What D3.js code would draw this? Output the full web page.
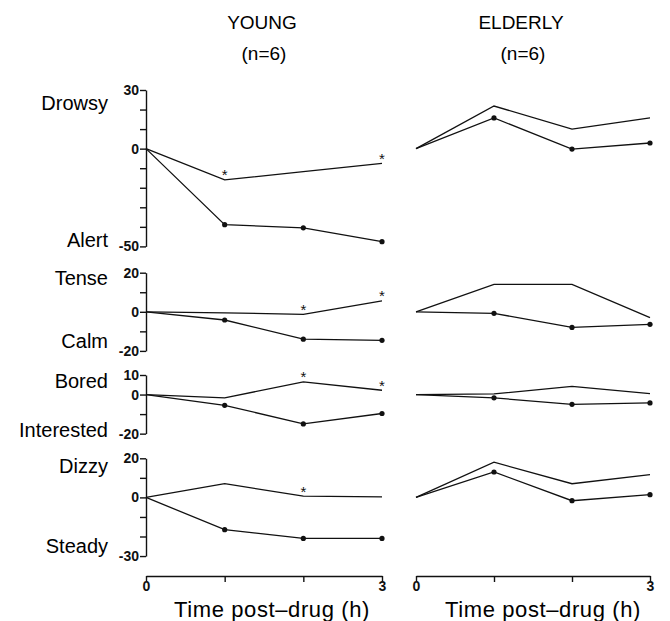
<!DOCTYPE html>
<html>
<head>
<meta charset="utf-8">
<script src="https://cdn.jsdelivr.net/npm/d3@7"></script>
<style>
  html, body { margin: 0; padding: 0; background: #fff; }
  svg { display: block; font-family: "Liberation Sans", Arial, Helvetica, sans-serif; }
  .line { fill: none; stroke: #111; stroke-width: 1.3; }
  .axis path, .axis line { stroke: #111; stroke-width: 1.4; }
</style>
</head>
<body>
<div id="chart"></div>
<script>
// time points (h)
const times = [0, 1, 2, 3];

// rating scales, one row per panel
const upperLabels = ['Drowsy', 'Tense', 'Bored', 'Dizzy'];
const lowerLabels = ['Alert', 'Calm', 'Interested', 'Steady'];
const yMax = [30, 20, 10, 20];
const yMin = [-50, -20, -20, -30];

// change from baseline, plain line (asterisked) and line with dots
const youngPlain = [
  [0, -16, -11.8, -7.5],
  [0, -0.5, -1.3, 5.6],
  [0, -1.7, 6.5, 2.2],
  [0, 7, 0.7, 0.3]
];
const youngDots = [
  [0, -38.9, -40.5, -47.6],
  [0, -4.2, -14, -14.6],
  [0, -5.5, -15, -9.7],
  [0, -16.5, -21, -21]
];
const elderlyPlain = [
  [0, 21.8, 10, 15.7],
  [0, 14, 14, -3],
  [0, 0.3, 4.2, 0.5],
  [0, 18, 7, 11.7]
];
const elderlyDots = [
  [0, 15.7, -0.2, 2.9],
  [0, -0.8, -8, -6.4],
  [0, -1.7, -5, -4.3],
  [0, 13, -1.7, 1.4]
];
// time points marked with * on the young plain line
const youngStars = [[1, 3], [2, 3], [2, 3], [2]];

const groups = ['YOUNG', 'ELDERLY'];
const groupN = ['(n=6)', '(n=6)'];

const width = 670, height = 621;
const pxPerUnit = 1.955;
const panelTop = [90, 272.7, 375, 458.3];
const upperY = [110, 285, 388, 473];
const lowerY = [247, 348, 437, 553];
const axisY = 576;

const svg = d3.select('#chart').append('svg')
  .attr('width', width).attr('height', height)
  .attr('viewBox', `0 0 ${width} ${height}`);

const xLeft = d3.scaleLinear().domain([0, 3]).range([146, 382]);
const xRight = d3.scaleLinear().domain([0, 3]).range([416, 650]);
const xScales = [xLeft, xRight];

const yScales = panelTop.map((top, i) => d3.scaleLinear()
  .domain([yMin[i], yMax[i]])
  .range([top + (yMax[i] - yMin[i]) * pxPerUnit, top]));

// group titles
groups.forEach((g, k) => {
  const cx = k === 0 ? 262 : 521;
  svg.append('text').attr('x', cx).attr('y', 29).attr('text-anchor', 'middle')
    .attr('font-size', 19).text(g);
  svg.append('text').attr('x', cx + 2).attr('y', 60).attr('text-anchor', 'middle')
    .attr('font-size', 19).text(groupN[k]);
});

// y axes (young side only) and scale labels
yScales.forEach((y, i) => {
  const ticks = d3.range(yMin[i], yMax[i] + 1, 10);
  const labelled = [yMin[i], 0, yMax[i]];
  const ax = svg.append('g').attr('class', 'axis')
    .attr('transform', `translate(${xLeft(0)},0)`)
    .call(d3.axisLeft(y).tickValues(ticks).tickSize(6).tickSizeOuter(0)
      .tickFormat((d) => (labelled.includes(d) ? d : '')));
  ax.selectAll('text').attr('font-family', 'inherit').attr('font-size', 14)
    .attr('font-weight', 'bold').attr('fill', '#111').attr('x', -7);

  svg.append('text').attr('x', 108).attr('y', upperY[i]).attr('text-anchor', 'end')
    .attr('font-size', 20).text(upperLabels[i]);
  svg.append('text').attr('x', 108).attr('y', lowerY[i]).attr('text-anchor', 'end')
    .attr('font-size', 20).text(lowerLabels[i]);
});

// lines
const plainSets = [youngPlain, elderlyPlain];
const dotSets = [youngDots, elderlyDots];

xScales.forEach((x, k) => {
  yScales.forEach((y, i) => {
    const line = d3.line().x((d, j) => x(times[j])).y((d) => y(d));
    svg.append('path').attr('class', 'line').attr('d', line(plainSets[k][i]));
    svg.append('path').attr('class', 'line').attr('d', line(dotSets[k][i]));
    svg.append('g').selectAll('circle')
      .data(dotSets[k][i].slice(1))
      .join('circle')
      .attr('cx', (d, j) => x(times[j + 1]))
      .attr('cy', (d) => y(d))
      .attr('r', 2.6)
      .attr('fill', '#111');
    if (k === 0) {
      svg.append('g').selectAll('text')
        .data(youngStars[i])
        .join('text')
        .attr('x', (t) => x(t))
        .attr('y', (t) => y(plainSets[k][i][t]) + 0.5)
        .attr('text-anchor', 'middle')
        .attr('font-size', 15)
        .attr('fill', '#111')
        .text('*');
    }
  });

  // time axis
  const ax = svg.append('g').attr('class', 'axis')
    .attr('transform', `translate(0,${axisY})`)
    .call(d3.axisBottom(x).tickValues(times).tickSize(6).tickSizeOuter(0)
      .tickFormat((d) => (d === 0 || d === 3 ? d : '')));
  ax.selectAll('text').attr('font-family', 'inherit').attr('font-size', 14)
    .attr('font-weight', 'bold').attr('fill', '#111').attr('y', 5);

  svg.append('text').attr('x', k === 0 ? 272 : 543).attr('y', 617)
    .attr('text-anchor', 'middle').attr('font-size', 22)
    .attr('letter-spacing', 0.6)
    .text('Time post\u2013drug (h)');
});
</script>
</body>
</html>
